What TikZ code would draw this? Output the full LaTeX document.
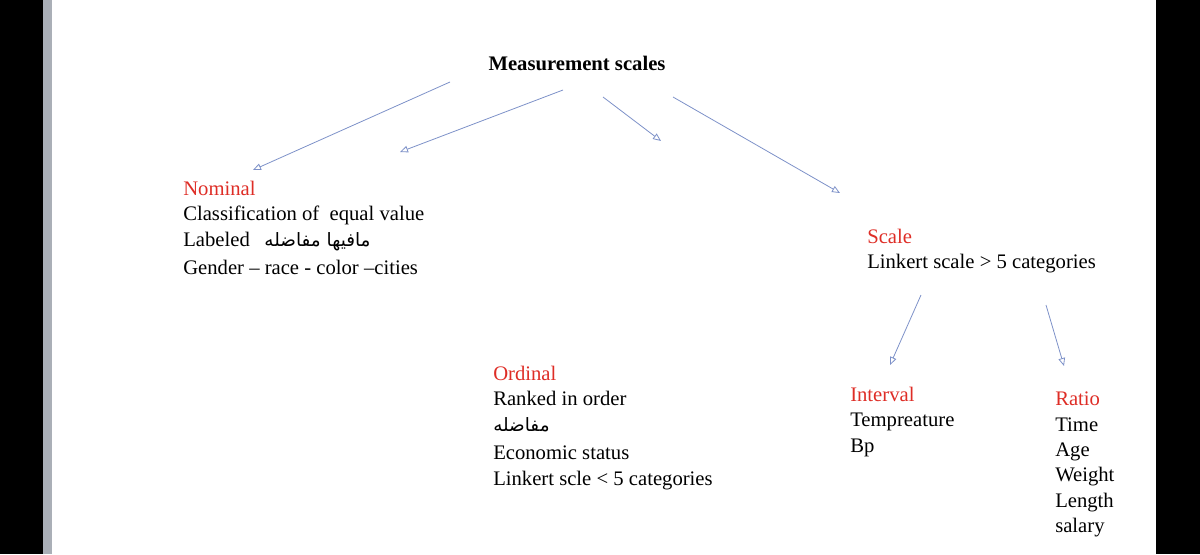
\documentclass[tikz,border=0pt]{standalone}
\usepackage{fontspec}
\setmainfont{Liberation Serif}
\newfontfamily\arabicfont[Script=Arabic]{DejaVu Sans}
\TeXXeTstate=1
\usetikzlibrary{arrows.meta}

\begin{document}
\begin{tikzpicture}[x=0.75pt,y=-0.75pt,
  block/.style={anchor=north west,inner sep=0pt,align=left,
    font=\fontsize{15.5}{19}\selectfont},
  link/.style={draw=scaleArrow,line width=0.6pt,-{Triangle[open,length=6pt,width=5pt]}}]
\definecolor{scaleRed}{RGB}{222,45,38}
\definecolor{scaleArrow}{RGB}{125,145,200}
\definecolor{barGray}{RGB}{170,175,183}
\useasboundingbox (0,0) rectangle (1200,554);
\fill[black] (0,0) rectangle (43,554);
\fill[barGray] (43,0) rectangle (52,554);
\fill[black] (1156,0) rectangle (1200,554);
\node[anchor=base,inner sep=0pt,font=\fontsize{15.5}{19}\selectfont\bfseries] (top) at (577,70) {Measurement scales};
\node[block] (nominal) at (183,181) {\textcolor{scaleRed}{Nominal}\\
  Classification of\ \ equal value\\
  Labeled\hspace{11pt}{\arabicfont\fontsize{13.8}{19}\selectfont\beginR مافيها مفاضله\endR}\\[2pt]
  Gender -- race - color --cities};
\node[block] (ordinal) at (493,366) {\textcolor{scaleRed}{Ordinal}\\
  Ranked in order\\
  {\arabicfont\fontsize{13.8}{19}\selectfont\beginR مفاضله\endR}\\[2pt]
  Economic status\\[1pt]
  Linkert scle < 5 categories};
\node[block] (scale) at (867,229) {\textcolor{scaleRed}{Scale}\\
  Linkert scale > 5 categories};
\node[block] (interval) at (850,387) {\textcolor{scaleRed}{Interval}\\
  Tempreature\\
  Bp};
\node[block] (ratio) at (1055,392) {\textcolor{scaleRed}{Ratio}\\
  Time\\
  Age\\
  Weight\\
  Length\\
  salary};
% arrow ends
\coordinate (a1) at (450,82);  \coordinate (b1) at (253,170);
\coordinate (a2) at (563,90);  \coordinate (b2) at (400,152);
\coordinate (a3) at (603,97);  \coordinate (b3) at (661,141);
\coordinate (a4) at (673,97);  \coordinate (b4) at (840,193);
\coordinate (a5) at (921,295); \coordinate (b5) at (890,365);
\coordinate (a6) at (1046,305); \coordinate (b6) at (1064,366);
\foreach \i in {1,...,6} {
  \draw[link] (a\i) -- (b\i);
}
\end{tikzpicture}
\end{document}
